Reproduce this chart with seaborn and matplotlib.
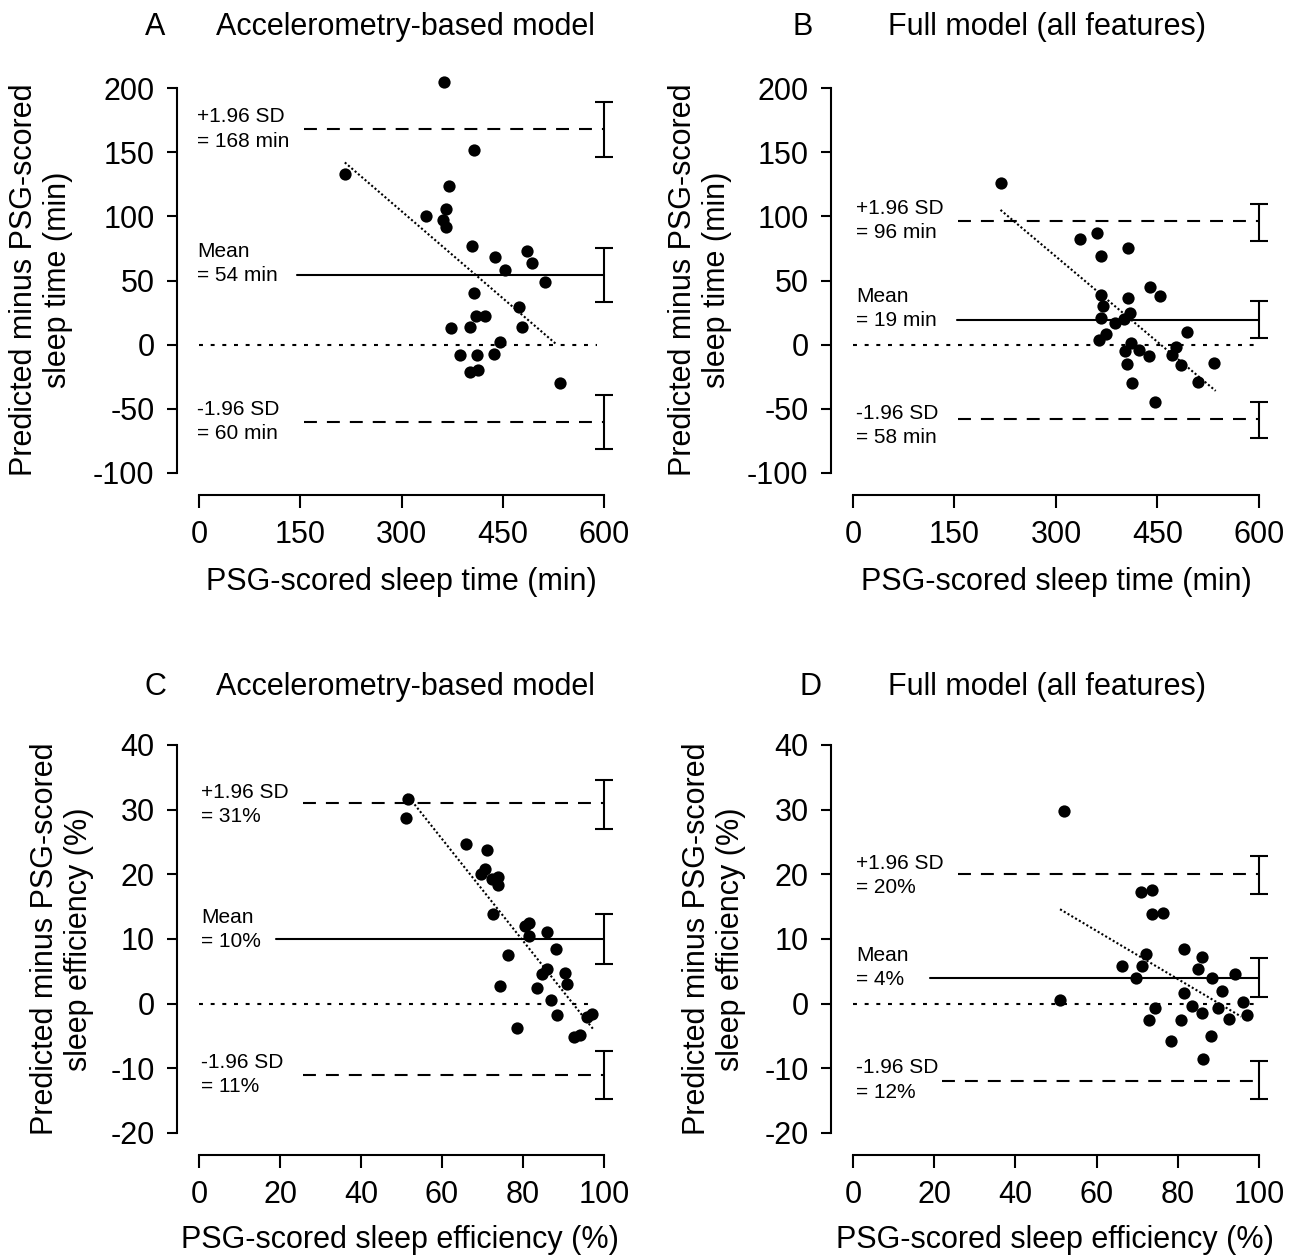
import matplotlib
matplotlib.use("Agg")
import matplotlib.pyplot as plt
import seaborn as sns

# ---- data ----
# panel A: accelerometry model, sleep time (min)
a_x = [363, 407, 216, 370, 366, 336, 362, 366, 405, 438, 486, 494, 453, 512,
       407, 474, 410, 423, 373, 402, 479, 446, 387, 412, 437, 401, 414, 535]
a_y = [205, 152, 133, 124, 106, 100, 97, 92, 77, 68, 73, 64, 58, 49,
       40, 29, 22, 22, 13, 14, 14, 2, -8, -8, -7, -21, -20, -30]
a_fit_x = [216, 529]
a_fit_y = [142, 0.5]
a_limits = [54, 168, -60]          # mean, +1.96 SD, -1.96 SD
a_ci_lo = [33, 146.5, -81]
a_ci_hi = [75, 189, -39]
a_labels = ["Mean\n= 54 min", "+1.96 SD\n= 168 min", "-1.96 SD\n= 60 min"]

# panel B: full model, sleep time (min)
b_x = [218, 336, 360, 366, 407, 439, 454, 366, 370, 407, 410, 400, 366, 387,
       374, 363, 493, 411, 422, 402, 438, 478, 472, 485, 405, 534, 413, 510, 446]
b_y = [126, 82, 87, 69, 75, 45, 38, 39, 30, 36, 25, 20, 21, 17,
       8, 4, 10, 1, -4, -5, -9, -2, -8, -16, -15, -14, -30, -29, -45]
b_fit_x = [218, 536]
b_fit_y = [105, -36]
b_limits = [19, 96, -58]
b_ci_lo = [5, 81, -72.7]
b_ci_hi = [34, 110, -44.4]
b_labels = ["Mean\n= 19 min", "+1.96 SD\n= 96 min", "-1.96 SD\n= 58 min"]

# panel C: accelerometry model, sleep efficiency (%)
c_x = [51.7, 51.0, 65.9, 71.2, 70.6, 69.5, 73.7, 72.4, 73.7, 72.7, 81.5, 80.4,
       85.9, 81.5, 88.2, 76.3, 85.9, 90.3, 84.8, 90.9, 74.3, 83.5, 86.8, 88.5,
       97.0, 95.8, 78.6, 94.1, 92.7]
c_y = [31.7, 28.7, 24.7, 23.8, 20.9, 20.1, 19.6, 19.3, 18.4, 13.9, 12.5, 12.0,
       11.1, 10.5, 8.4, 7.5, 5.3, 4.8, 4.6, 3.1, 2.7, 2.5, 0.5, -1.7,
       -1.6, -2.0, -3.8, -4.8, -5.1]
c_fit_x = [51.2, 97.4]
c_fit_y = [32.4, -4.0]
c_limits = [10, 31, -11]
c_ci_lo = [6.1, 27, -14.8]
c_ci_hi = [13.9, 34.6, -7.3]
c_labels = ["Mean\n= 10%", "+1.96 SD\n= 31%", "-1.96 SD\n= 11%"]

# panel D: full model, sleep efficiency (%)
d_x = [52.0, 51.0, 70.9, 73.6, 73.6, 76.3, 72.2, 66.2, 71.1, 69.6, 81.5, 86.0,
       84.9, 88.4, 94.1, 81.5, 91.0, 83.6, 90.0, 96.0, 74.4, 86.0, 72.8, 80.7,
       92.6, 97.0, 88.2, 78.3, 86.1]
d_y = [29.8, 0.6, 17.3, 17.6, 13.9, 14.0, 7.7, 5.9, 5.8, 3.9, 8.4, 7.2,
       5.4, 4.0, 4.6, 1.7, 1.9, -0.3, -0.6, 0.3, -0.7, -1.4, -2.6, -2.6,
       -2.3, -1.8, -5.0, -5.7, -8.5]
d_fit_x = [51, 95.6]
d_fit_y = [14.6, -2.0]
d_limits = [4, 20, -12]
d_ci_lo = [1, 17, -14.8]
d_ci_hi = [7, 22.9, -8.9]
d_labels = ["Mean\n= 4%", "+1.96 SD\n= 20%", "-1.96 SD\n= 12%"]

time_ticks = [0, 150, 300, 450, 600]
time_yticks = [-100, -50, 0, 50, 100, 150, 200]
eff_ticks = [0, 20, 40, 60, 80, 100]
eff_yticks = [-20, -10, 0, 10, 20, 30, 40]

panel_titles = ["Accelerometry-based model", "Full model (all features)",
                "Accelerometry-based model", "Full model (all features)"]
panel_letters = ["A", "B", "C", "D"]
xlabels = ["PSG-scored sleep time (min)", "PSG-scored sleep time (min)",
           "PSG-scored sleep efficiency (%)", "PSG-scored sleep efficiency (%)"]
ylabels = ["Predicted minus PSG-scored\nsleep time (min)",
           "Predicted minus PSG-scored\nsleep time (min)",
           "Predicted minus PSG-scored\nsleep efficiency (%)",
           "Predicted minus PSG-scored\nsleep efficiency (%)"]

# ---- styling ----
sns.set_style("ticks")
plt.rcParams["font.family"] = ["Liberation Sans", "DejaVu Sans"]
plt.rcParams["axes.unicode_minus"] = False
plt.rcParams["text.color"] = "black"
plt.rcParams["axes.labelcolor"] = "black"
plt.rcParams["xtick.color"] = "black"
plt.rcParams["ytick.color"] = "black"

W, H = 1292, 1255
fig = plt.figure(figsize=(W / 100, H / 100), dpi=100)


def fx(px):
    return px / W


def fy(py):
    return 1 - py / H


DASHED = (0, (6.2, 4.8))
ZERO_DOTS = (0, (1.9, 3.7))
FIT_DOTS = (0, (1, 1.1))


def draw_panel(rect, x, y, fit_x, fit_y, limits, ci_lo, ci_hi, labels, cfg):
    ax = fig.add_axes(rect)
    sns.scatterplot(x=x, y=y, ax=ax, color="black", s=78, linewidth=0,
                    zorder=4)
    ax.plot(fit_x, fit_y, color="black", lw=1.5, linestyle=FIT_DOTS, zorder=3)

    end = cfg["err_x"]
    # zero line
    ax.plot([0, cfg["zero_end"]], [0, 0], color="black", lw=1.5,
            linestyle=ZERO_DOTS)
    # mean line and limits of agreement
    ax.plot([cfg["mean_start"], end], [limits[0], limits[0]], color="black",
            lw=1.5)
    ax.plot([cfg["up_start"], end], [limits[1], limits[1]], color="black",
            lw=1.5, linestyle=DASHED)
    ax.plot([cfg["low_start"], end], [limits[2], limits[2]], color="black",
            lw=1.5, linestyle=DASHED)

    # confidence intervals of mean and limits
    for lo, hi in zip(ci_lo, ci_hi):
        mid = (lo + hi) / 2
        ax.errorbar(end, mid, yerr=[[mid - lo], [hi - mid]], fmt="none",
                    ecolor="black", elinewidth=1.5, capsize=6.5, capthick=1.5,
                    clip_on=False)

    for txt, ty in zip(labels, cfg["label_y"]):
        ax.text(cfg["label_x"], ty, txt, ha="left", va="center", fontsize=15,
                linespacing=1.35)

    ax.set_xlim(cfg["xlim"])
    ax.set_ylim(cfg["ylim"])
    ax.set_xticks(cfg["xticks"])
    ax.set_yticks(cfg["yticks"])
    ax.tick_params(axis="both", width=1.5, labelsize=22, pad=9, color="black")
    ax.tick_params(axis="y", length=7)
    ax.tick_params(axis="x", length=9)
    for side in ["left", "bottom"]:
        ax.spines[side].set_linewidth(1.5)
        ax.spines[side].set_color("black")
    sns.despine(ax=ax, offset=16, trim=True)
    return ax


time_cfg = dict(xlim=(0, 616), ylim=(-100, 212), xticks=time_ticks,
                yticks=time_yticks, err_x=600)
eff_cfg = dict(xlim=(0, 103), ylim=(-20, 41.5), xticks=eff_ticks,
               yticks=eff_yticks, err_x=100)

cfg_a = dict(time_cfg, zero_end=590, mean_start=145, up_start=155,
             low_start=155, label_x=-3, label_y=[63, 168, -60])
cfg_b = dict(time_cfg, zero_end=600, mean_start=154, up_start=155,
             low_start=155, label_x=5, label_y=[28, 97, -63])
cfg_c = dict(eff_cfg, zero_end=97.4, mean_start=18.9, up_start=25.7,
             low_start=25.7, label_x=0.5, label_y=[11.5, 30.8, -11])
cfg_d = dict(eff_cfg, zero_end=100, mean_start=19, up_start=25.8,
             low_start=22, label_x=0.8, label_y=[5.6, 19.8, -11.8])

# axes rectangles, from pixel positions of the reference
top_b, top_h = fy(473), (473 - 72.6) / H
bot_b, bot_h = fy(1133), (1133 - 735.3) / H
rects = [
    [fx(199), top_b, 415.8 / W, top_h],
    [fx(853), top_b, 416.8 / W, top_h],
    [fx(199), bot_b, 417.2 / W, bot_h],
    [fx(853), bot_b, 418.2 / W, bot_h],
]

draw_panel(rects[0], a_x, a_y, a_fit_x, a_fit_y, a_limits, a_ci_lo, a_ci_hi,
           a_labels, cfg_a)
draw_panel(rects[1], b_x, b_y, b_fit_x, b_fit_y, b_limits, b_ci_lo, b_ci_hi,
           b_labels, cfg_b)
draw_panel(rects[2], c_x, c_y, c_fit_x, c_fit_y, c_limits, c_ci_lo, c_ci_hi,
           c_labels, cfg_c)
draw_panel(rects[3], d_x, d_y, d_fit_x, d_fit_y, d_limits, d_ci_lo, d_ci_hi,
           d_labels, cfg_d)

# titles, axis labels placed in figure pixels
letter_x = [155, 803, 155, 810]
title_x = [216, 888, 216, 888]
title_base = [35, 35, 695, 695]
xlabel_x = [401, 1056, 400, 1055]
xlabel_base = [590, 590, 1248, 1248]
ylabel_x = [41, 700, 62, 714]
ylabel_y = [280, 280, 939, 939]

for i in range(4):
    fig.text(fx(letter_x[i]), fy(title_base[i]), panel_letters[i],
             ha="center", va="baseline", fontsize=22)
    fig.text(fx(title_x[i]), fy(title_base[i]), panel_titles[i],
             ha="left", va="baseline", fontsize=22)
    fig.text(fx(xlabel_x[i]), fy(xlabel_base[i]), xlabels[i],
             ha="center", va="baseline", fontsize=22)
    fig.text(fx(ylabel_x[i]), fy(ylabel_y[i]), ylabels[i], rotation=90,
             ha="center", va="center", multialignment="center", fontsize=22)

fig.savefig("out.png", dpi=100, facecolor="white")
